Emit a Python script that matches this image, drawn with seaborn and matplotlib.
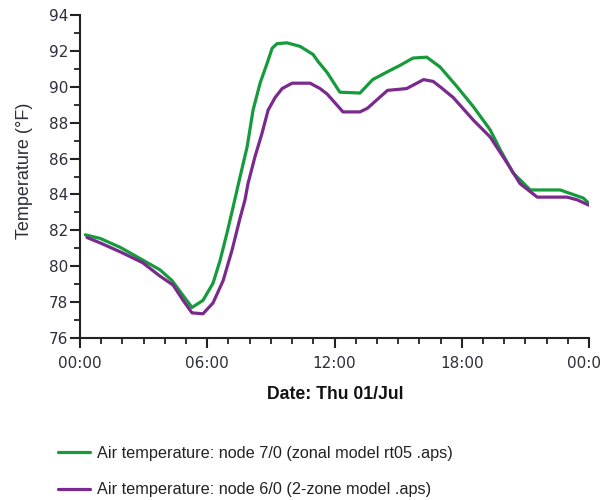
import numpy as np
import pandas as pd
import matplotlib
matplotlib.use("Agg")
import matplotlib.pyplot as plt
import seaborn as sns
from matplotlib.ticker import MultipleLocator, FuncFormatter

# Hours since midnight, Thu 01/Jul
zonal_hours = [0.25, 0.95, 1.9, 2.95, 3.77, 4.34, 5.28, 5.8, 6.27, 6.6, 6.93, 7.2,
               7.55, 7.88, 8.16, 8.49, 8.82, 9.06, 9.29, 9.76, 10.38, 10.99, 11.23,
               11.65, 12.25, 13.2, 13.8, 14.6, 15.1, 15.7, 16.35, 16.98, 17.78, 18.54,
               19.34, 19.81, 20.42, 21.23, 22.64, 23.73, 24.0]
zonal_temp = [81.75, 81.55, 81.05, 80.35, 79.8, 79.2, 77.7, 78.1, 79.05, 80.3, 81.85, 83.2,
              85.0, 86.65, 88.7, 90.2, 91.3, 92.15, 92.4, 92.45, 92.25, 91.8, 91.4,
              90.8, 89.7, 89.65, 90.4, 90.9, 91.2, 91.6, 91.65, 91.1, 90.0, 88.9,
              87.6, 86.5, 85.2, 84.25, 84.25, 83.8, 83.5]

twozone_hours = [0.33, 0.95, 1.9, 2.95, 3.77, 4.39, 4.86, 5.28, 5.8, 6.27, 6.75, 7.17,
                 7.55, 7.78, 7.92, 8.25, 8.58, 8.87, 9.2, 9.53, 10.0, 10.85, 11.32,
                 11.65, 12.4, 13.2, 13.55, 14.5, 15.4, 16.2, 16.65, 16.98, 17.6, 18.54,
                 19.34, 20.14, 20.75, 21.56, 22.97, 23.44, 24.0]
twozone_temp = [81.6, 81.3, 80.8, 80.2, 79.45, 78.95, 78.1, 77.4, 77.35, 77.95, 79.2, 80.9,
                82.7, 83.7, 84.6, 86.1, 87.4, 88.7, 89.4, 89.9, 90.2, 90.2, 89.9,
                89.6, 88.6, 88.6, 88.8, 89.8, 89.9, 90.4, 90.3, 90.0, 89.4, 88.15,
                87.2, 85.75, 84.6, 83.85, 83.85, 83.7, 83.4]

series_names = ["Air temperature: node 7/0 (zonal model rt05 .aps)",
                "Air temperature: node 6/0 (2-zone model .aps)"]
series_colors = ["#169b3c", "#7a2a8c"]

df = pd.concat([
    pd.DataFrame({"hour": zonal_hours, "temp": zonal_temp, "series": series_names[0]}),
    pd.DataFrame({"hour": twozone_hours, "temp": twozone_temp, "series": series_names[1]}),
], ignore_index=True)

sns.set_style("white")
plt.rcParams["font.family"] = ["Liberation Sans", "DejaVu Sans"]

fig = plt.figure(figsize=(6.02, 5.0), dpi=100)
ax = fig.add_axes([80 / 602, 1 - 338 / 500, (589 - 80) / 602, (338 - 15) / 500])

sns.lineplot(data=df, x="hour", y="temp", hue="series", palette=series_colors,
             hue_order=series_names, linewidth=2.3, ax=ax, legend=False, sort=False)

ax.set_xlim(0, 24)
ax.set_ylim(76, 94)
ax.xaxis.set_major_locator(MultipleLocator(6))
ax.xaxis.set_minor_locator(MultipleLocator(1))
ax.yaxis.set_major_locator(MultipleLocator(2))
ax.yaxis.set_minor_locator(MultipleLocator(1))
ax.xaxis.set_major_formatter(FuncFormatter(lambda v, p: f"{int(v) % 24:02d}:00"))

for s in ["top", "right"]:
    ax.spines[s].set_visible(False)
for s in ["left", "bottom"]:
    ax.spines[s].set_color("#222222")
    ax.spines[s].set_linewidth(1.5)

label_color = "#2e2e3c"
ax.tick_params(which="major", direction="out", length=7.5, width=1.5, color="#222222",
               labelsize=11, labelcolor=label_color, bottom=True, left=True)
ax.tick_params(which="minor", direction="out", length=4.5, width=1.3, color="#222222",
               bottom=True, left=True)
ax.tick_params(axis="y", which="major", pad=1)
ax.tick_params(axis="x", which="major", pad=5.5)
for lbl in ax.get_xticklabels() + ax.get_yticklabels():
    lbl.set_family("DejaVu Sans")

ax.set_ylabel("Temperature (°F)", fontsize=13, color=label_color)
ax.yaxis.set_label_coords((33 - 80) / 509, (338 - 171) / 323)
ax.set_xlabel("Date: Thu 01/Jul", fontsize=12.7, fontweight="bold", color="#111111")
ax.xaxis.set_label_coords((335 - 80) / 509, -(386 - 338) / 323)

handles = [plt.Line2D([], [], color=c, linewidth=2.3) for c in series_colors]
fig.legend(handles, series_names, loc="upper left",
           bbox_to_anchor=(43 / 602, 1 - 431 / 500),
           frameon=False, fontsize=11.7, handlelength=2.0, handletextpad=0.43,
           labelspacing=1.34, labelcolor="#222222")

fig.savefig("out.png", dpi=100, facecolor="white")
